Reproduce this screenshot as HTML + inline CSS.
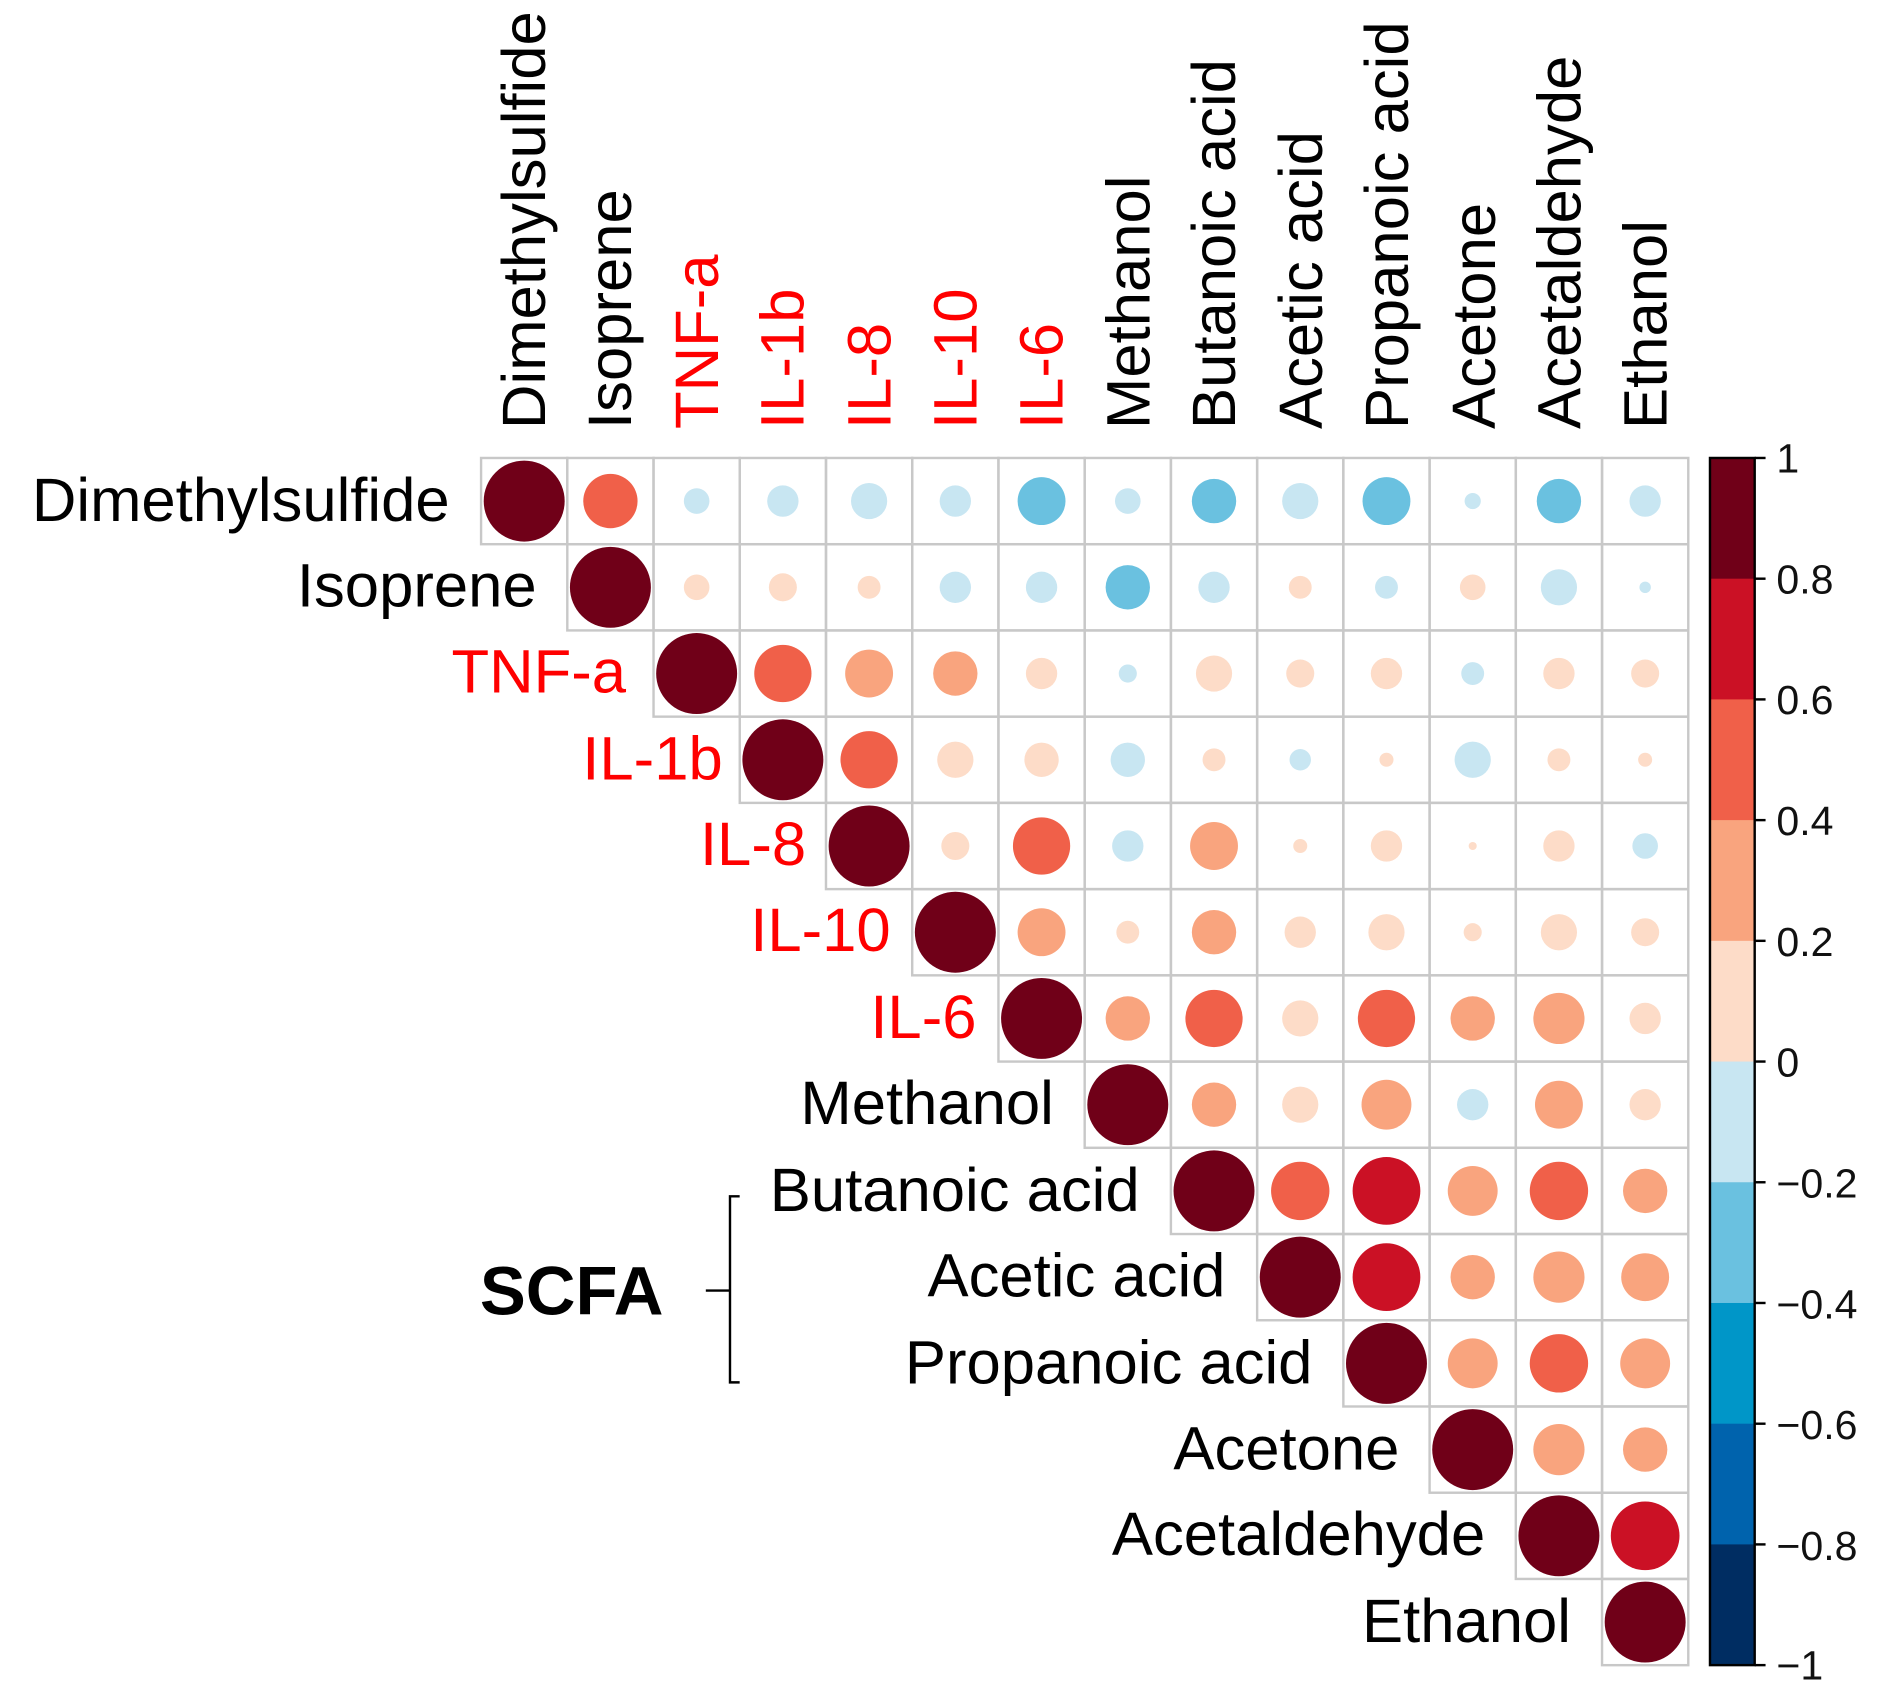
<!DOCTYPE html>
<html><head><meta charset="utf-8"><style>
html,body{margin:0;padding:0;background:#fff}
svg{display:block}
text{font-family:"Liberation Sans",Arial,sans-serif}
</style></head><body>
<svg id="s" width="1895" height="1705" viewBox="0 0 1568 1411" xmlns="http://www.w3.org/2000/svg">
<rect width="1568" height="1411" fill="#fff"/>
<g id="grid"></g>
<g font-size="51" fill="#000">
<text transform="translate(451,355) rotate(-90)">Dimethylsulfide</text>
<text transform="translate(522,355) rotate(-90)">Isoprene</text>
<text transform="translate(594,355) rotate(-90)" fill="#f00">TNF-a</text>
<text transform="translate(665,355) rotate(-90)" fill="#f00">IL-1b</text>
<text transform="translate(737,355) rotate(-90)" fill="#f00">IL-8</text>
<text transform="translate(808,355) rotate(-90)" fill="#f00">IL-10</text>
<text transform="translate(879,355) rotate(-90)" fill="#f00">IL-6</text>
<text transform="translate(951,355) rotate(-90)">Methanol</text>
<text transform="translate(1022,355) rotate(-90)">Butanoic acid</text>
<text transform="translate(1094,355) rotate(-90)">Acetic acid</text>
<text transform="translate(1165,355) rotate(-90)">Propanoic acid</text>
<text transform="translate(1237,355) rotate(-90)">Acetone</text>
<text transform="translate(1308,355) rotate(-90)">Acetaldehyde</text>
<text transform="translate(1379,355) rotate(-90)">Ethanol</text>
</g>
<g font-size="51" text-anchor="end">
<text x="372" y="431">Dimethylsulfide</text>
<text x="444" y="502">Isoprene</text>
<text x="518" y="573" fill="#f00">TNF-a</text>
<text x="598" y="645" fill="#f00">IL-1b</text>
<text x="667" y="716" fill="#f00">IL-8</text>
<text x="737" y="787" fill="#f00">IL-10</text>
<text x="808" y="859" fill="#f00">IL-6</text>
<text x="872" y="930">Methanol</text>
<text x="943" y="1002">Butanoic acid</text>
<text x="1014" y="1073">Acetic acid</text>
<text x="1086" y="1145">Propanoic acid</text>
<text x="1158" y="1216">Acetone</text>
<text x="1229" y="1287">Acetaldehyde</text>
<text x="1300" y="1359">Ethanol</text>
</g>
<text x="397" y="1088" font-size="57" font-weight="bold">SCFA</text>
<path d="M612,990 H604 V1144 H612 M604,1068 H584" stroke="#000" stroke-width="2" fill="none"/>
<g id="cb"></g>
<g font-size="34" fill="#111">
<text x="1470" y="391">1</text>
<text x="1470" y="491">0.8</text>
<text x="1470" y="591">0.6</text>
<text x="1470" y="691">0.4</text>
<text x="1470" y="791">0.2</text>
<text x="1470" y="891">0</text>
<text x="1470" y="991">−0.2</text>
<text x="1470" y="1091">−0.4</text>
<text x="1470" y="1191">−0.6</text>
<text x="1470" y="1291">−0.8</text>
<text x="1470" y="1390">−1</text>
</g>
</svg>
<script>
var cols=["#002d62","#0063ad","#0096c8","#6ac1e0","#c8e6f2","#fddcc8","#f9a47e","#f06049","#cb1125","#700018"];
function col(v){var i=Math.floor((v+1)/0.2);if(i>9)i=9;if(i<0)i=0;return cols[i];}
var U=[
[0.45,-0.1,-0.15,-0.2,-0.15,-0.35,-0.1,-0.3,-0.2,-0.35,-0.04,-0.3,-0.15],
[0.1,0.12,0.08,-0.15,-0.15,-0.3,-0.15,0.08,-0.08,0.1,-0.2,-0.02],
[0.5,0.35,0.3,0.15,-0.05,0.2,0.12,0.15,-0.08,0.15,0.12],
[0.5,0.2,0.18,-0.18,0.08,-0.07,0.03,-0.2,0.08,0.03],
[0.12,0.5,-0.15,0.35,0.03,0.15,0.01,0.15,-0.1],
[0.35,0.08,0.3,0.15,0.2,0.05,0.2,0.12],
[0.3,0.5,0.2,0.5,0.3,0.4,0.15],
[0.3,0.2,0.38,-0.15,0.35,0.15],
[0.52,0.7,0.38,0.52,0.3],
[0.7,0.3,0.4,0.35],
[0.38,0.52,0.38],
[0.4,0.3],
[0.72]];
var L=398,T=379,C=71.36,R=33.5,g=document.getElementById("grid"),h="";
for(var i=0;i<14;i++){for(var j=i;j<14;j++){
var x=L+j*C,y=T+i*C;
h+='<rect x="'+x+'" y="'+y+'" width="'+C+'" height="'+C+'" fill="none" stroke="#c8c8c8" stroke-width="2"/>';
var v=(i==j)?1:U[i][j-i-1];
h+='<circle cx="'+(x+C/2)+'" cy="'+(y+C/2)+'" r="'+(R*Math.sqrt(Math.abs(v)))+'" fill="'+col(v)+'"/>';}}
g.innerHTML=h;
var cb="",cTop=379,cBot=1378,st=(cBot-cTop)/10;
for(var k=0;k<10;k++){cb+='<rect x="1415" y="'+(cTop+k*st)+'" width="37" height="'+(st+0.5)+'" fill="'+cols[9-k]+'"/>';}
cb+='<rect x="1415" y="'+cTop+'" width="37" height="'+(cBot-cTop)+'" fill="none" stroke="#000" stroke-width="2"/>';
for(var k=0;k<=10;k++){var yy=cTop+k*st;cb+='<line x1="1452" x2="1461" y1="'+yy+'" y2="'+yy+'" stroke="#000" stroke-width="2"/>';}
document.getElementById("cb").innerHTML=cb;
</script>
</body></html>
